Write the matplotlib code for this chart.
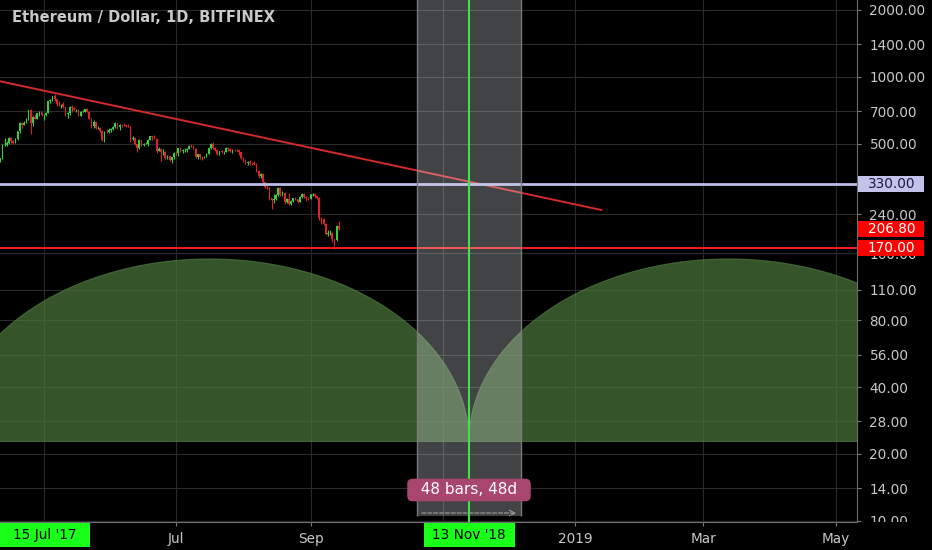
import numpy as np
import matplotlib
matplotlib.use("Agg")
import matplotlib.pyplot as plt
import matplotlib.dates as mdates
import matplotlib.ticker as mticker
from matplotlib.patches import Rectangle
from matplotlib.transforms import Bbox, TransformedBbox

# daily ETH/USD candles, 11 Apr 2018 .. 14 Sep 2018 (open = previous close)
days = np.arange("2018-04-11", "2018-09-15", dtype="datetime64[D]")
first_open = 415
closes = [430, 492, 493, 502, 532, 511, 503, 524, 567, 616, 606, 621, 643, 708, 619, 661, 645, 683, 690, 670,
          673, 688, 779, 786, 816, 793, 753, 751, 753, 727, 678, 684, 731, 726, 708, 709, 668, 695, 696, 715,
          697, 648, 602, 622, 587, 589, 571, 516, 566, 563, 578,
          580, 592, 619, 592, 609, 606, 605, 601, 598, 525, 531, 496, 476, 520, 490, 498, 499, 518, 538, 537,
          526, 464, 474, 456, 459, 431, 441, 421, 435, 455,
          453, 476, 465, 467, 468, 474, 489, 487, 474, 433, 448, 434, 433, 437, 450, 479, 499, 479, 469, 450,
          461, 457, 460, 479, 472, 463, 469, 467, 466, 457, 432,
          420, 410, 412, 408, 407, 406, 377, 356, 366, 334, 320, 318, 283, 277, 281, 293, 316, 294, 300, 272,
          281, 268, 276, 283, 280, 274, 288, 296, 288, 284, 282,
          295, 296, 289, 285, 230, 229, 216, 196, 197, 198, 185, 183, 212, 206.8]
highs = [432, 500, 530, 512, 535, 534, 518, 527, 570, 622, 624, 634, 650, 709, 712, 665, 680, 685, 703, 692,
         676, 690, 780, 795, 820, 836, 795, 778, 755, 768, 730, 692, 735, 742, 731, 712, 718, 699, 711, 718,
         720, 701, 650, 637, 624, 602, 592, 574, 571, 579, 589,
         587, 598, 625, 621, 610, 613, 617, 609, 612, 599, 539, 534, 500, 524, 521, 502, 506, 522, 541, 543,
         544, 530, 480, 477, 474, 462, 446, 443, 436, 458,
         461, 478, 484, 474, 478, 477, 492, 495, 490, 477, 450, 450, 441, 441, 453, 484, 502, 507, 482, 474,
         464, 468, 463, 483, 484, 477, 474, 471, 472, 468, 458,
         435, 424, 415, 423, 412, 418, 410, 378, 370, 367, 336, 327, 320, 285, 295, 296, 320, 318, 305, 302,
         284, 300, 279, 285, 286, 282, 289, 298, 299, 290, 287,
         296, 299, 298, 291, 286, 233, 231, 219, 203, 204, 200, 186, 214, 225]
lows = [412, 426, 486, 488, 500, 505, 500, 502, 521, 560, 586, 604, 617, 640, 550, 600, 643, 643, 668, 665,
        640, 668, 683, 758, 778, 775, 740, 736, 720, 722, 665, 650, 675, 690, 706, 690, 665, 663, 692, 693,
        692, 645, 588, 586, 582, 580, 564, 512, 508, 557, 558,
        566, 577, 590, 584, 577, 595, 600, 592, 595, 508, 518, 492, 456, 474, 487, 486, 496, 487, 516, 516,
        524, 455, 461, 418, 446, 427, 428, 418, 410, 428,
        444, 441, 460, 454, 456, 457, 470, 483, 471, 430, 428, 426, 422, 430, 434, 448, 471, 474, 461, 445,
        446, 455, 448, 456, 462, 460, 455, 463, 461, 446, 425,
        411, 405, 399, 401, 400, 402, 371, 350, 350, 327, 314, 312, 279, 253, 270, 277, 290, 290, 291, 268,
        269, 265, 265, 272, 277, 271, 272, 285, 285, 275, 279,
        281, 289, 285, 282, 227, 216, 214, 193, 192, 193, 180, 167, 181, 203]

# price axis
y_ticks = [2000, 1400, 1000, 700, 500, 330, 240, 160, 110, 80, 56, 40, 28, 20, 14, 10]

# time axis (May '18 and Nov sit under the green date labels)
x_tick_dates = ["2018-05-01", "2018-07-01", "2018-09-01", "2018-11-01", "2019-01-01", "2019-03-01", "2019-05-01"]
x_tick_labels = ["", "Jul", "Sep", "", "2019", "Mar", "May"]

# drawings
trend_dates = ["2018-04-01", "2019-01-13"]
trend_prices = [1000, 251]
resistance = 330
support = 170
last_price = 206.8
cycle_day = "2018-11-13"
range_start = "2018-10-20"
range_end = "2018-12-07"
range_label = "48 bars, 48d"
arc_half_days = 119.5
arc_base = 22.75
arc_peak = 151
left_label = "15 Jul '17"
cycle_label = "13 Nov '18"

# ------------------------------------------------------------------
d2n = lambda s: mdates.date2num(np.datetime64(s))
x = mdates.date2num(days)
c = np.array(closes, dtype=float)
o = np.array([first_open] + closes[:-1], dtype=float)
up = c >= o
cols = np.where(up, "#36d03c", "#dc2529")
cyc = d2n(cycle_day)

fig = plt.figure(figsize=(9.32, 5.5), dpi=100, facecolor="black")
ax = fig.add_axes([0, 28 / 550, 857 / 932, 522 / 550], facecolor="black")
ax.set_yscale("log")
px_day = 2.17
ax.set_xlim(cyc - 469 / px_day, cyc + 388 / px_day)
ax.set_ylim(10 ** (1 - 1.3 / 222), 10 ** (1 + 520.7 / 222))

ax.set_yticks(y_ticks, [f"{v:.2f}" for v in y_ticks])
ax.yaxis.set_minor_locator(mticker.NullLocator())
ax.yaxis.tick_right()
ax.set_xticks([d2n(d) for d in x_tick_dates], x_tick_labels)
ax.xaxis.set_minor_locator(mticker.NullLocator())
ax.tick_params(axis="y", colors="#7a7a7a", labelcolor="#c8c8c8", labelsize=9.8, length=3, pad=6)
ax.tick_params(axis="x", colors="#7a7a7a", labelcolor="#c8c8c8", labelsize=9.8, length=3, pad=4)
ax.grid(True, color="#2a2a2a", lw=0.8)
ax.set_axisbelow(True)
for s in ["left", "top"]:
    ax.spines[s].set_visible(False)
for s in ["right", "bottom"]:
    ax.spines[s].set_color("#6e6e6e")

# cycle arcs
t = np.linspace(0, np.pi, 300)
for ctr in [cyc - arc_half_days, cyc + arc_half_days]:
    xs = ctr + arc_half_days * np.cos(t)
    ys = 10 ** (np.log10(arc_base) + (np.log10(arc_peak) - np.log10(arc_base)) * np.sin(t))
    ax.fill(xs, ys, facecolor=(0.30, 0.47, 0.23), alpha=0.7, edgecolor="#4f7d42", lw=0.8, zorder=1.5)

# candles
ax.vlines(x, lows, highs, colors=cols, lw=0.8, zorder=3)
ax.bar(x, np.abs(c - o), bottom=np.minimum(o, c), width=0.75, color=cols, lw=0, zorder=3)

# lines
ax.plot([d2n(d) for d in trend_dates], trend_prices, color="#d42a2a", lw=1.4, zorder=3)
ax.axhline(resistance, color="#bcbce8", lw=2, zorder=3)
ax.axhline(support, color="#ff1c1c", lw=1.4, zorder=3)

# date range box
r0, r1 = d2n(range_start), d2n(range_end)
ax.fill_between([r0, r1], 10.5, 3000, color=(0.86, 0.88, 0.9), alpha=0.3, lw=0, zorder=4)
ax.vlines([r0, r1], 10.5, 3000, colors="#7a7a7a", lw=1, zorder=4)
ax.annotate("", xy=(r1 - 1, 10.83), xytext=(r0 + 1, 10.83),
            arrowprops=dict(arrowstyle="->", color="#a0a0a0", lw=0.8, ls="--"), zorder=5)
ax.axvline(cyc, color="#3fe24a", lw=1.5, zorder=6)
ax.text(cyc, 13.75, "  " + range_label + "  ", color="white", fontsize=11, ha="center", va="center", zorder=8,
        bbox=dict(boxstyle="round,pad=0.25,rounding_size=0.35", fc="#a8466f", ec="none"))

ax.text(12 / 857, 1 - 17 / 522, "Ethereum / Dollar, 1D, BITFINEX", transform=ax.transAxes,
        fontsize=10.5, fontweight="bold", color="#c8c8c8", ha="left", va="center")

# price labels on right axis
ytr = ax.get_yaxis_transform()
h = 10 ** (8 / 222)
for v, fc, tc in [(resistance, "#c2c2ea", "#1c1c3c"), (last_price, "#ff0000", "white"), (support, "#ff0000", "white")]:
    ax.add_patch(Rectangle((1 + 1 / 857, v / h), 66 / 857, v * h - v / h, transform=ytr,
                           facecolor=fc, edgecolor="none", clip_on=False, zorder=10))
    ax.text(1 + 11 / 857, v, f"{v:.2f}", transform=ytr, fontsize=9.8, color=tc,
            ha="left", va="center", clip_on=False, zorder=11)

# date labels on bottom axis
ax.add_patch(Rectangle((0, -25 / 522), 90 / 857, 24 / 522, transform=ax.transAxes,
                       facecolor="#1aff1a", edgecolor="none", clip_on=False, zorder=10))
ax.text(45 / 857, -13 / 522, left_label, transform=ax.transAxes, fontsize=9.8, color="black",
        ha="center", va="center", clip_on=False, zorder=11)
xtr = ax.get_xaxis_transform()
ax.add_patch(Rectangle((cyc - 45.5 / px_day, -25 / 522), 91 / px_day, 24 / 522, transform=xtr,
                       facecolor="#1aff1a", edgecolor="none", clip_on=False, zorder=10))
ax.text(cyc, -13 / 522, cycle_label, transform=xtr, fontsize=9.8, color="black",
        ha="center", va="center", clip_on=False, zorder=11)

# lowest price label is cut by the time axis strip
clip = TransformedBbox(Bbox([[0, 28 / 550], [1, 1]]), fig.transFigure)
for tk in ax.yaxis.get_major_ticks():
    tk.label2.set_clip_on(True)
    tk.label2.set_clip_box(clip)

fig.savefig("out.png", dpi=100, facecolor="black")
